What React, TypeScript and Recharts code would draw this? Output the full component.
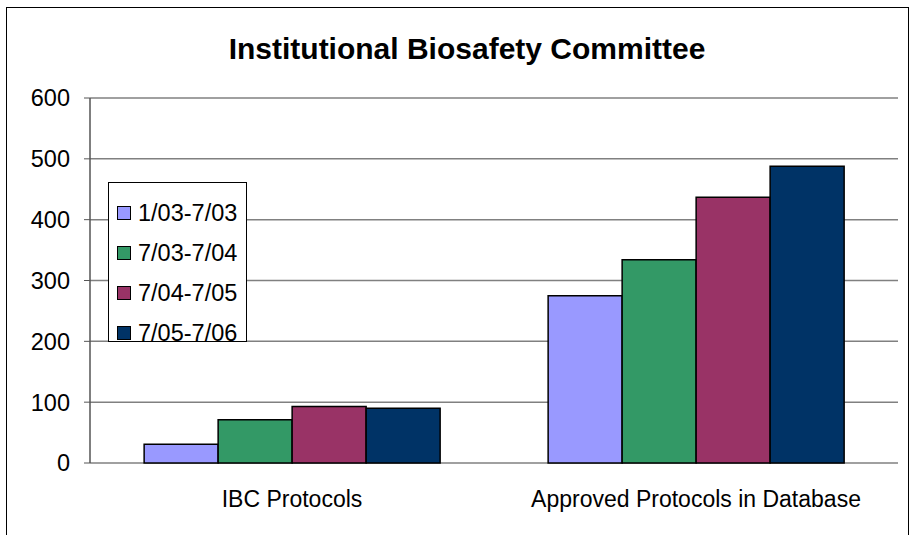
import React from "react";
import { BarChart, Bar, XAxis, YAxis, CartesianGrid, Legend } from "recharts";

const categories = ["IBC Protocols", "Approved Protocols in Database"];
const period1 = [31, 275];
const period2 = [71, 334];
const period3 = [93, 437];
const period4 = [90, 488];
const seriesNames = ["1/03-7/03", "7/03-7/04", "7/04-7/05", "7/05-7/06"];
const seriesColors = ["#9999FF", "#339966", "#993366", "#003366"];
const yTicks = [0, 100, 200, 300, 400, 500, 600];
const edgeTicks = [0, 1, 2];

const FONT = '"Liberation Sans", Arial, sans-serif';

const data = categories.map((name, i) => ({
  name,
  s0: period1[i],
  s1: period2[i],
  s2: period3[i],
  s3: period4[i],
}));

const LegendBox = () => (
  <div
    style={{
      border: "1px solid #000",
      background: "#fff",
      width: 139,
      height: 160,
      boxSizing: "border-box",
      padding: "10px 0 0 8px",
      fontFamily: FONT,
      fontSize: 23.5,
    }}
  >
    {seriesNames.map((n, i) => (
      <div key={n} style={{ display: "flex", alignItems: "center", height: 40, whiteSpace: "nowrap" }}>
        <span
          style={{
            display: "inline-block",
            width: 12,
            height: 12,
            background: seriesColors[i],
            border: "1.5px solid #000",
            marginRight: 7,
            flexShrink: 0,
          }}
        />
        <span>{n}</span>
      </div>
    ))}
  </div>
);

const App: React.FC = () => {
  return (
    <div style={{ position: "absolute", left: 0, top: 0, width: 912, height: 535, overflow: "hidden", background: "#fff" }}>
      <div
        style={{
          position: "absolute",
          left: 6,
          top: 7,
          width: 903,
          height: 560,
          border: "1.5px solid #000",
          boxSizing: "border-box",
        }}
      />
      <div
        style={{
          position: "absolute",
          left: 0,
          top: 32,
          width: 934,
          textAlign: "center",
          fontFamily: FONT,
          fontWeight: "bold",
          fontSize: 30,
        }}
      >
        Institutional Biosafety Committee
      </div>
      <div style={{ position: "absolute", left: 0, top: 0 }}>
        <BarChart
          width={912}
          height={535}
          data={data}
          margin={{ top: 98, right: 14, left: 0, bottom: 0 }}
          barGap={0}
          barCategoryGap="13.4%"
        >
          <CartesianGrid xAxisId="cat" vertical={false} stroke="#808080" strokeWidth={1.5} />
          <XAxis
            xAxisId="edge"
            type="number"
            domain={[0, 2]}
            ticks={edgeTicks}
            tick={false}
            tickSize={6}
            height={0}
            stroke="#555"
            axisLine={{ stroke: "#555", strokeWidth: 1.5 }}
          />
          <XAxis
            xAxisId="cat"
            dataKey="name"
            height={72}
            axisLine={false}
            tickLine={false}
            tickSize={6}
            tickMargin={22}
            tick={{ fill: "#000", fontSize: 23, fontFamily: FONT }}
          />
          <YAxis
            domain={[0, 600]}
            ticks={yTicks}
            width={90}
            tickSize={6}
            tickMargin={14}
            stroke="#555"
            axisLine={{ stroke: "#555", strokeWidth: 1.5 }}
            tick={{ fill: "#000", fontSize: 23.5, fontFamily: FONT }}
          />
          <Legend
            layout="vertical"
            align="center"
            verticalAlign="middle"
            wrapperStyle={{ left: 108, top: 182, width: 139 }}
            content={() => <LegendBox />}
          />
          {seriesNames.map((n, i) => (
            <Bar
              key={n}
              xAxisId="cat"
              dataKey={`s${i}`}
              name={n}
              fill={seriesColors[i]}
              stroke="#000"
              strokeWidth={1.5}
              isAnimationActive={false}
            />
          ))}
        </BarChart>
      </div>
    </div>
  );
};

export default App;
